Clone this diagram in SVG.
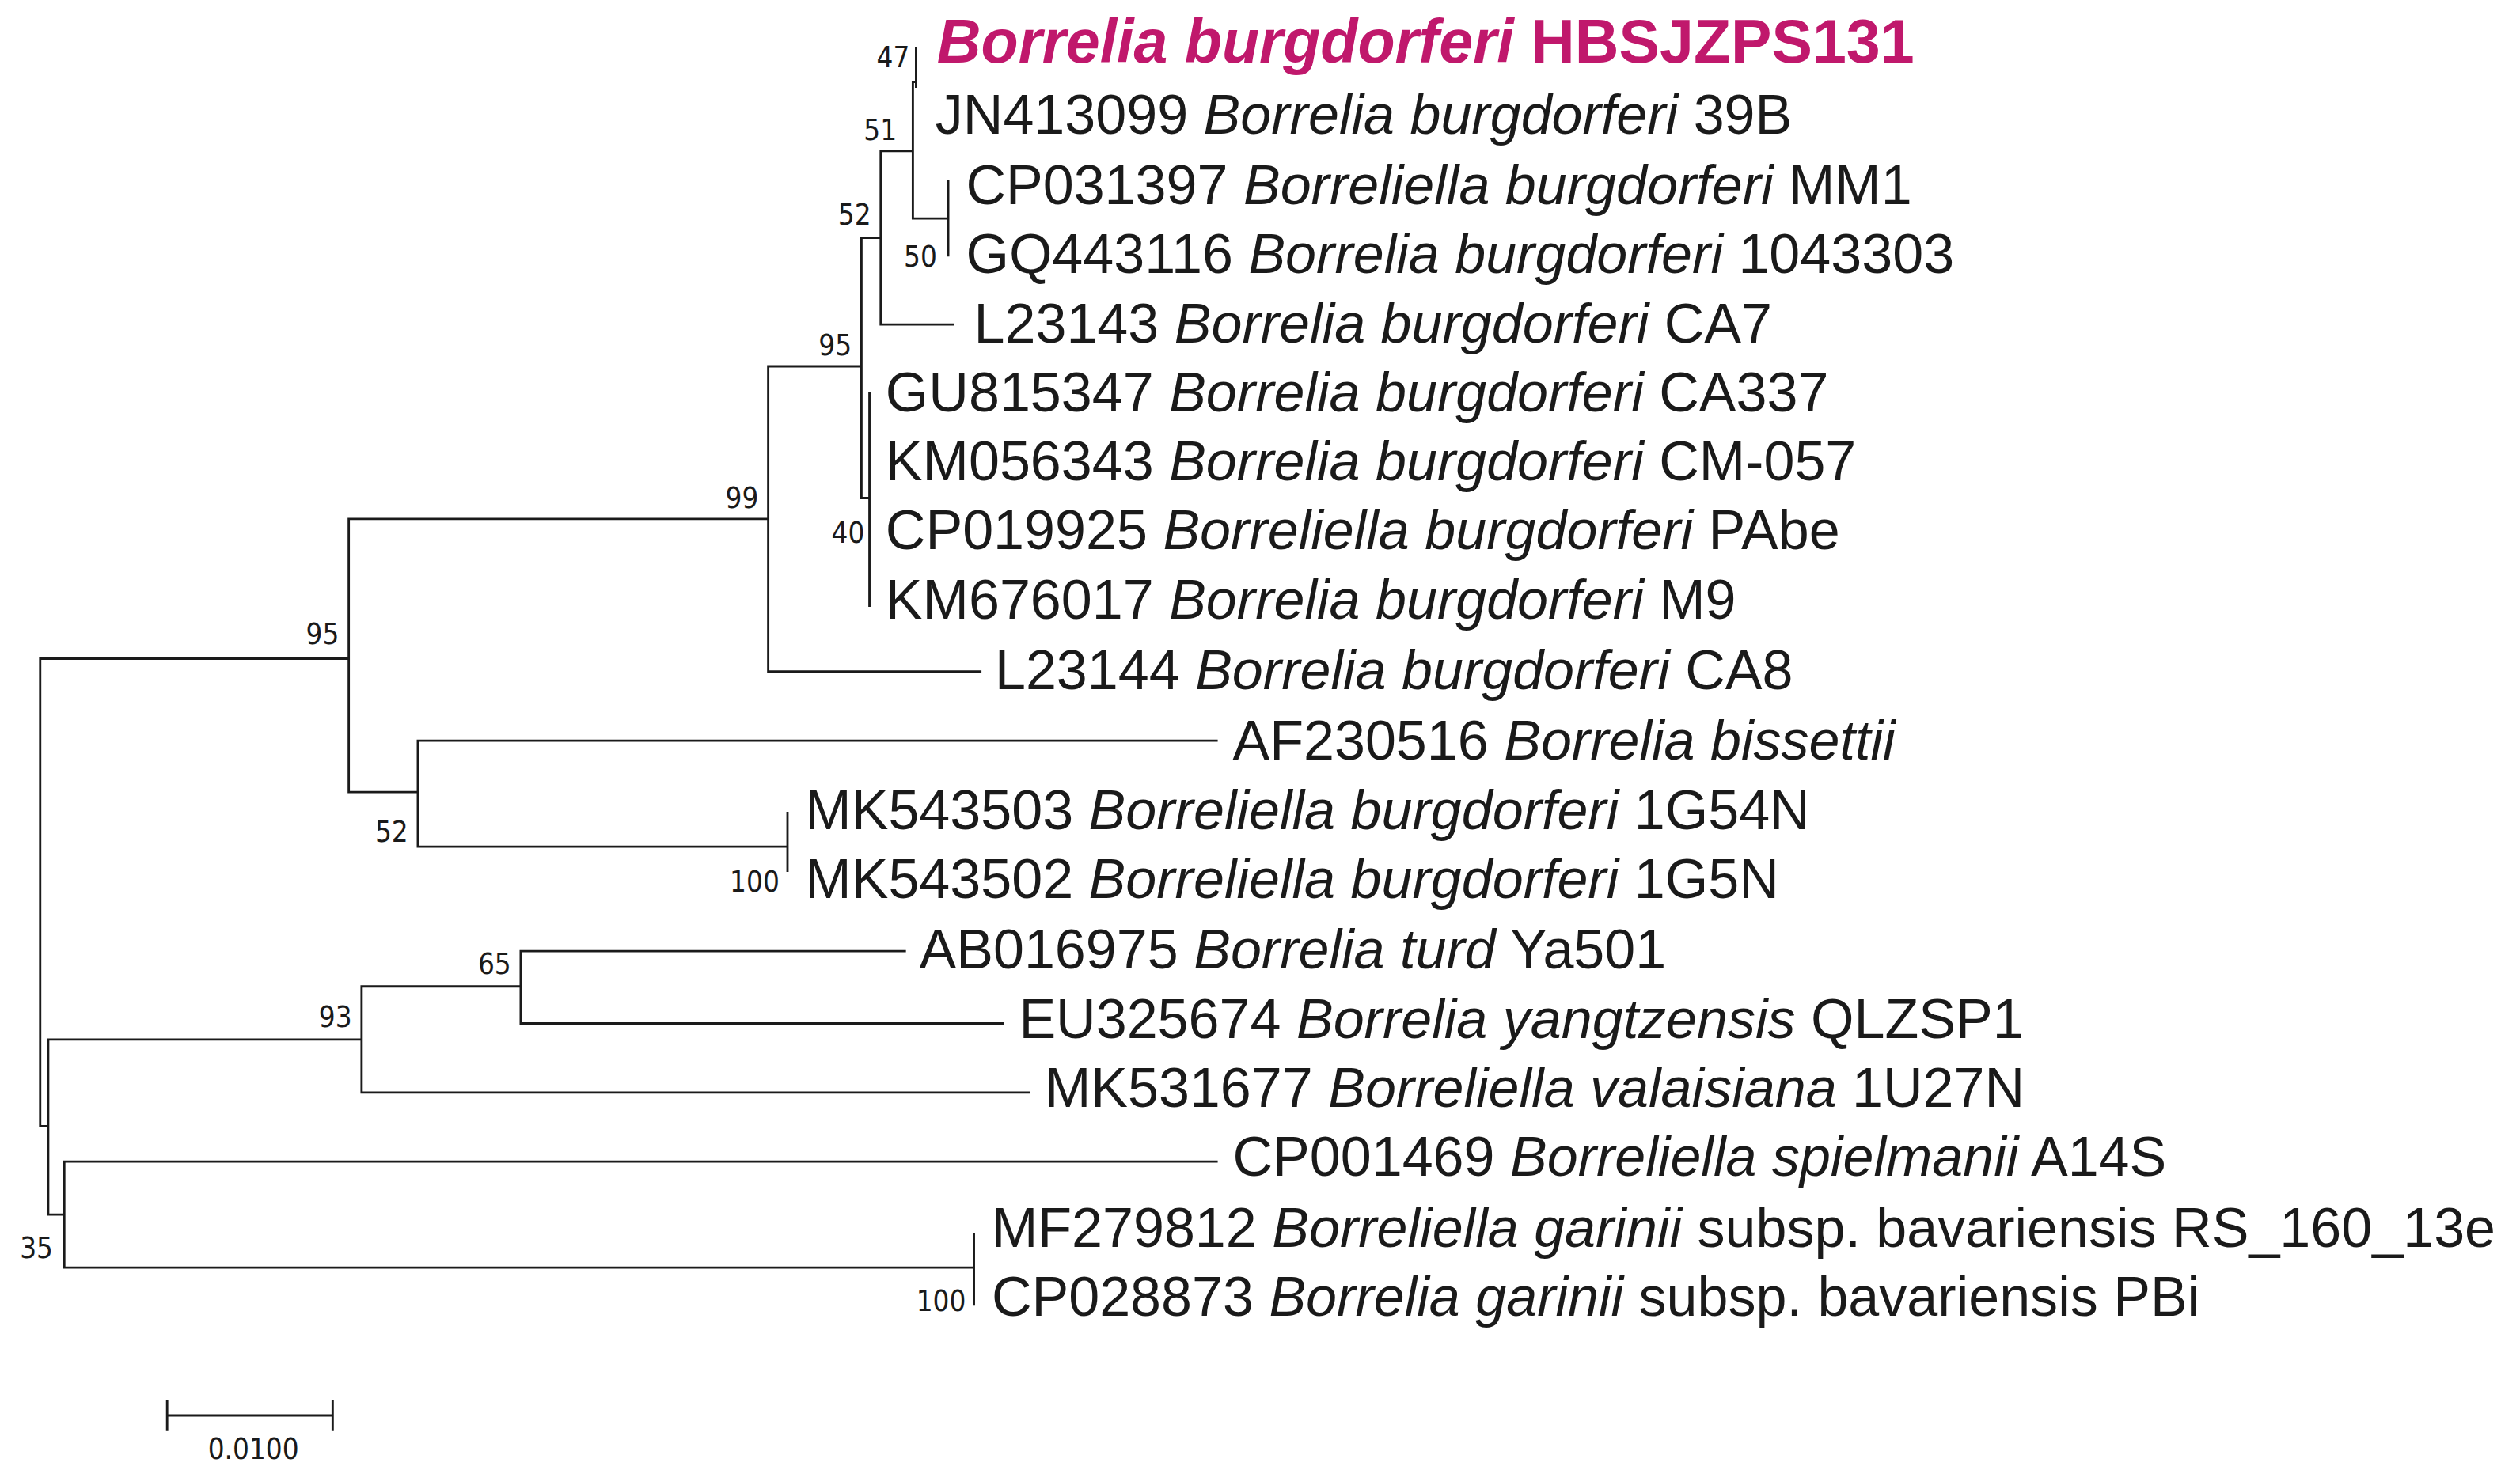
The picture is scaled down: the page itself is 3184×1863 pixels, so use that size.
<svg xmlns="http://www.w3.org/2000/svg" width="3184" height="1863" viewBox="0 0 3184 1863">
<style>
.e{fill:none;stroke:#1a1a1a;stroke-width:1.4;stroke-linecap:square}
.t{font-family:"Liberation Sans",Arial,sans-serif;font-size:34.5px;fill:#1a1a1a}
.t tspan.i{font-style:italic}
.b{font-family:"DejaVu Sans Condensed","DejaVu Sans",sans-serif;font-stretch:condensed;font-size:18px;fill:#1a1a1a;text-anchor:end}
.h{font-family:"Liberation Sans",Arial,sans-serif;font-size:38px;font-weight:bold;fill:#c0186c}
</style>
<rect width="3184" height="1863" fill="#fff"/>
<g transform="scale(2.0306)">
<g id="connectors">
<path class="e" d="M570,30V54M568,51H570M568,51V136M568,136H590M590,113V159M548,94H568M548,94V202M548,202H593M536,148H548M536,148V310M536,310H541M541,245V377M478,228H536M478,228V418M478,418H610M217,323H478M217,323V493M25,410H217M217,493H260M260,461V527M260,461H757M260,527H490M490,506V542M25,410V701M25,701H30M30,647V756M30,647H225M225,614V680M225,614H324M324,592V637M324,592H563M324,637H624M225,680H640M30,756H40M40,723V789M40,723H757M40,789H606M606,768V812"/>
<path class="e" d="M104,881H207M104,872V890M207,872V890"/>
</g>
<g id="bootstrap">
<text class="b" x="566" y="42">47</text>
<text class="b" x="558" y="87">51</text>
<text class="b" x="542" y="140">52</text>
<text class="b" x="583" y="166">50</text>
<text class="b" x="530" y="221">95</text>
<text class="b" x="472" y="316">99</text>
<text class="b" x="538" y="338">40</text>
<text class="b" x="211" y="401">95</text>
<text class="b" x="254" y="524">52</text>
<text class="b" x="485" y="555">100</text>
<text class="b" x="318" y="606">65</text>
<text class="b" x="219" y="639">93</text>
<text class="b" x="33" y="783">35</text>
<text class="b" x="601" y="816">100</text>
<text class="b" x="186" y="908">0.0100</text>
</g>
<g id="n1"><text class="h" x="583" y="39"><tspan font-style="italic">Borrelia burgdorferi</tspan> HBSJZPS131</text></g>
<g id="n2"><text class="t" x="582" y="83">JN413099 <tspan class="i">Borrelia burgdorferi</tspan> 39B</text></g>
<g id="n3"><text class="t" x="601" y="127">CP031397 <tspan class="i">Borreliella burgdorferi</tspan> MM1</text></g>
<g id="n4"><text class="t" x="601" y="170">GQ443116 <tspan class="i">Borrelia burgdorferi</tspan> 1043303</text></g>
<g id="n5"><text class="t" x="606" y="213">L23143 <tspan class="i">Borrelia burgdorferi</tspan> CA7</text></g>
<g id="n6"><text class="t" x="551" y="256">GU815347 <tspan class="i">Borrelia burgdorferi</tspan> CA337</text></g>
<g id="n7"><text class="t" x="551" y="299">KM056343 <tspan class="i">Borrelia burgdorferi</tspan> CM-057</text></g>
<g id="n8"><text class="t" x="551" y="342">CP019925 <tspan class="i">Borreliella burgdorferi</tspan> PAbe</text></g>
<g id="n9"><text class="t" x="551" y="385">KM676017 <tspan class="i">Borrelia burgdorferi</tspan> M9</text></g>
<g id="n10"><text class="t" x="619" y="429">L23144 <tspan class="i">Borrelia burgdorferi</tspan> CA8</text></g>
<g id="n11"><text class="t" x="767" y="473">AF230516 <tspan class="i">Borrelia bissettii</tspan></text></g>
<g id="n12"><text class="t" x="501" y="516">MK543503 <tspan class="i">Borreliella burgdorferi</tspan> 1G54N</text></g>
<g id="n13"><text class="t" x="501" y="559">MK543502 <tspan class="i">Borreliella burgdorferi</tspan> 1G5N</text></g>
<g id="n14"><text class="t" x="572" y="603">AB016975 <tspan class="i">Borrelia turd</tspan> Ya501</text></g>
<g id="n15"><text class="t" x="634" y="646">EU325674 <tspan class="i">Borrelia yangtzensis</tspan> QLZSP1</text></g>
<g id="n16"><text class="t" x="650" y="689">MK531677 <tspan class="i">Borreliella valaisiana</tspan> 1U27N</text></g>
<g id="n17"><text class="t" x="767" y="732">CP001469 <tspan class="i">Borreliella spielmanii</tspan> A14S</text></g>
<g id="n18"><text class="t" x="617" y="776">MF279812 <tspan class="i">Borreliella garinii</tspan> subsp. bavariensis RS_160_13e</text></g>
<g id="n19"><text class="t" x="617" y="819">CP028873 <tspan class="i">Borrelia garinii</tspan> subsp. bavariensis PBi</text></g>
</g>
</svg>
